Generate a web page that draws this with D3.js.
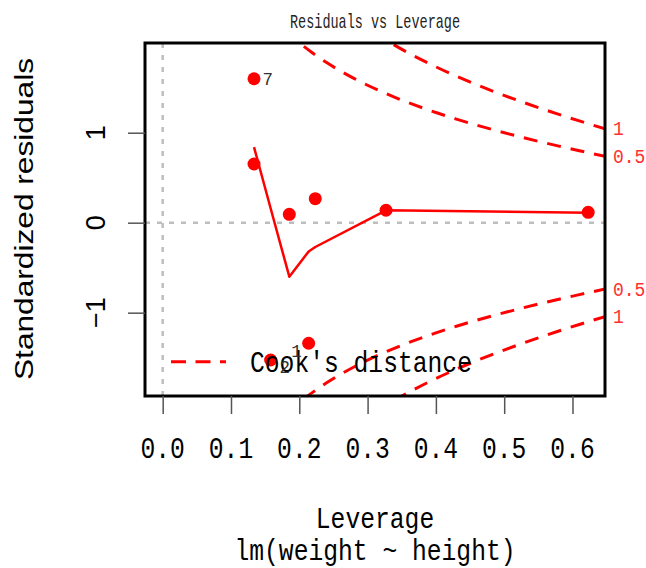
<!DOCTYPE html>
<html>
<head>
<meta charset="utf-8">
<script src="https://cdn.jsdelivr.net/npm/d3@7"></script>
<style>
  html, body { margin: 0; padding: 0; background: #fff; }
  svg { display: block; }
</style>
</head>
<body>
<svg id="chart" width="646" height="568"></svg>
<script>
// Observation ids, leverages and standardized residuals
const obsId    = [1, 2, 3, 4, 5, 6, 7, 8];
const leverage = [0.2137, 0.158, 0.1854, 0.2234, 0.327, 0.623, 0.1337, 0.1337];
const stdResid = [-1.34, -1.526, 0.093, 0.267, 0.138, 0.115, 1.60, 0.652];

// Observations flagged with their id
const labelledIds = [7, 2, 1];

// Smoothed trend through the residuals
const smoothLev   = [0.1337, 0.158, 0.1854, 0.2137, 0.2234, 0.327, 0.623];
const smoothResid = [0.84, 0.16, -0.60, -0.32, -0.27, 0.138, 0.111];

// Cook's distance contour levels, tabulated over leverage
const cookLevels = [0.5, 1];
const contourLev = [0.18, 0.20, 0.22, 0.24, 0.26, 0.28, 0.30, 0.32, 0.34, 0.36,
                    0.38, 0.40, 0.43, 0.46, 0.49, 0.52, 0.55, 0.58, 0.61, 0.6476];
const contourHalf = [2.1344, 2.0, 1.8829, 1.7795, 1.6871, 1.6036, 1.5275, 1.4577, 1.3933, 1.3333,
                     1.2773, 1.2247, 1.1513, 1.0835, 1.0202, 0.9608, 0.9045, 0.8510, 0.7996, 0.7377];
const contourOne  = [3.0185, 2.8284, 2.6628, 2.5166, 2.3859, 2.2678, 2.1602, 2.0615, 1.9704, 1.8856,
                     1.8064, 1.7320, 1.6282, 1.5323, 1.4428, 1.3588, 1.2792, 1.2035, 1.1308, 1.0433];

// Axis ticks
const xTicks = [0.0, 0.1, 0.2, 0.3, 0.4, 0.5, 0.6];
const xTickLabels = ["0.0", "0.1", "0.2", "0.3", "0.4", "0.5", "0.6"];
const yTicks = [-1, 0, 1];
const yTickLabels = ["\u22121", "0", "1"];

const svg = d3.select("#chart");
const box = { left: 145, right: 605, top: 43, bottom: 396 };

const x = d3.scaleLinear().domain([-0.0259, 0.6476]).range([box.left, box.right]);
const y = d3.scaleLinear().domain([-1.926, 1.997]).range([box.bottom, box.top]);

const RED = "#ff0000";

// Monospaced text, stretched vertically to a tall narrow glyph shape
function mono(parent, str, px, py, adv, cap, anchor, fill) {
  const fs = adv / 0.6;
  const sy = cap / (fs * 0.659);
  return parent.append("text")
    .attr("transform", `translate(${px},${py}) scale(1,${sy})`)
    .attr("font-family", "'Liberation Mono', 'DejaVu Sans Mono', monospace")
    .attr("font-size", fs)
    .attr("text-anchor", anchor)
    .attr("fill", fill)
    .text(str);
}

svg.append("defs").append("clipPath").attr("id", "plotClip")
  .append("rect")
  .attr("x", box.left).attr("y", box.top)
  .attr("width", box.right - box.left).attr("height", box.bottom - box.top);

const plot = svg.append("g").attr("clip-path", "url(#plotClip)");

// Reference lines at zero
plot.append("line")
  .attr("x1", x(0)).attr("x2", x(0)).attr("y1", box.top).attr("y2", box.bottom)
  .attr("stroke", "#bebebe").attr("stroke-width", 2.5).attr("stroke-dasharray", "5,7");
plot.append("line")
  .attr("x1", box.left).attr("x2", box.right).attr("y1", y(0)).attr("y2", y(0))
  .attr("stroke", "#bebebe").attr("stroke-width", 2.5).attr("stroke-dasharray", "5,7");

// Smoothed trend
const trend = d3.line().x(d => x(d[0])).y(d => y(d[1]));
plot.append("path")
  .datum(smoothLev.map((h, i) => [h, smoothResid[i]]))
  .attr("d", trend)
  .attr("fill", "none").attr("stroke", RED).attr("stroke-width", 2.5)
  .attr("stroke-linejoin", "round");

// Cook's distance contours, above and below zero
const contourLine = d3.line().x(d => x(d[0])).y(d => y(d[1])).curve(d3.curveMonotoneX);
const contourSets = [contourHalf, contourOne];
contourSets.forEach(vals => {
  [1, -1].forEach(sign => {
    plot.append("path")
      .datum(contourLev.map((h, i) => [h, sign * vals[i]]))
      .attr("d", contourLine)
      .attr("fill", "none").attr("stroke", RED).attr("stroke-width", 3)
      .attr("stroke-dasharray", "14,10");
  });
});

// Observations
const obs = obsId.map((id, i) => ({ id, h: leverage[i], r: stdResid[i] }));
svg.append("g").selectAll("circle")
  .data(obs).join("circle")
  .attr("cx", d => x(d.h)).attr("cy", d => y(d.r)).attr("r", 6.5)
  .attr("fill", RED);

// Plot frame
svg.append("rect")
  .attr("x", box.left).attr("y", box.top)
  .attr("width", box.right - box.left).attr("height", box.bottom - box.top)
  .attr("fill", "none").attr("stroke", "#000").attr("stroke-width", 3);

// X axis
const xAxis = d3.axisBottom(x).tickValues(xTicks).tickSize(18).tickFormat("");
const xg = svg.append("g").attr("transform", `translate(0,${box.bottom})`).call(xAxis);
xg.select(".domain").remove();
xg.selectAll(".tick line").attr("stroke", "#555").attr("stroke-width", 1.5);
xTicks.forEach((t, i) => mono(svg, xTickLabels[i], x(t), 458, 14.8, 20, "middle", "#000"));

// Y axis
const yAxis = d3.axisLeft(y).tickValues(yTicks).tickSize(17).tickFormat("");
const yg = svg.append("g").attr("transform", `translate(${box.left},0)`).call(yAxis);
yg.select(".domain").remove();
yg.selectAll(".tick line").attr("stroke", "#555").attr("stroke-width", 1.5);
yTicks.forEach((t, i) => {
  svg.append("text")
    .attr("transform", `translate(105,${y(t)}) rotate(-90)`)
    .attr("font-family", "'Liberation Sans', Arial, sans-serif")
    .attr("font-size", 27)
    .attr("text-anchor", "middle")
    .attr("fill", "#000")
    .text(yTickLabels[i]);
});

// Axis titles
svg.append("text")
  .attr("transform", "translate(33,219) rotate(-90)")
  .attr("font-family", "'Liberation Sans', Arial, sans-serif")
  .attr("font-size", 25)
  .attr("text-anchor", "middle")
  .attr("textLength", 322).attr("lengthAdjust", "spacingAndGlyphs")
  .attr("fill", "#000")
  .text("Standardized residuals");

const midX = (box.left + box.right) / 2;
mono(svg, "Leverage", midX, 528, 14.8, 20, "middle", "#000");
mono(svg, "lm(weight ~ height)", midX, 560, 14.8, 20, "middle", "#000");
mono(svg, "Residuals vs Leverage", midX, 28, 8.1, 13, "middle", "#222");

// Contour level labels at the right margin
const lastH = contourLev.length - 1;
[[contourOne, "1"], [contourHalf, "0.5"]].forEach(([vals, lab]) => {
  [1, -1].forEach(sign => {
    mono(svg, lab, 613, y(sign * vals[lastH]) + 6.5, 10.8, 13, "start", "#ff3030");
  });
});

// Legend
svg.append("line")
  .attr("x1", 171).attr("x2", 226).attr("y1", 361.7).attr("y2", 361.7)
  .attr("stroke", RED).attr("stroke-width", 3).attr("stroke-dasharray", "15,9.5");
mono(svg, "Cook's distance", 250, 371.7, 14.8, 20, "start", "#000");

// Ids of the flagged observations
const labelOffset = { 7: [8.5, 6.3], 2: [9, 13.2], 1: [-17.5, 13.6] };
labelledIds.forEach(id => {
  const d = obs.find(o => o.id === id);
  const [dx, dy] = labelOffset[id];
  mono(svg, String(id), x(d.h) + dx, y(d.r) + dy, 10.5, 12.3, "start", "#333");
});
</script>
</body>
</html>
